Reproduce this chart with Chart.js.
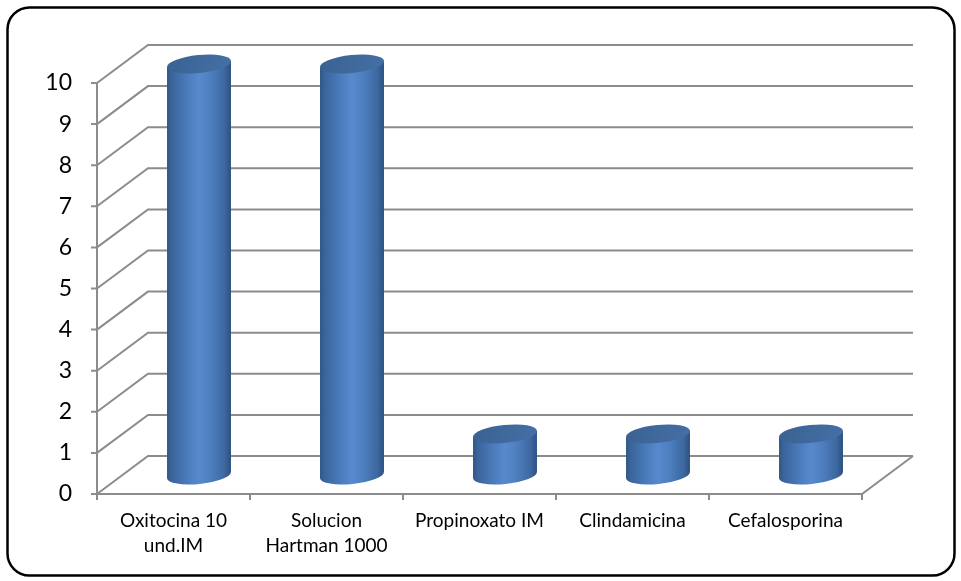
<!DOCTYPE html>
<html>
<head>
<meta charset="utf-8">
<script src="https://cdn.jsdelivr.net/npm/chart.js@4.4.1/dist/chart.umd.min.js"></script>
<style>
  html, body { margin: 0; padding: 0; background: #fff; }
  canvas { display: block; }
</style>
</head>
<body>
<canvas id="medChart" width="961" height="581"></canvas>
<script>
// Chart data
const medicamentos = [['Oxitocina 10', 'und.IM'], ['Solucion', 'Hartman 1000'], 'Propinoxato IM', 'Clindamicina', 'Cefalosporina'];
const cantidades = [10, 10, 1, 1, 1];
const yTickValues = [0, 1, 2, 3, 4, 5, 6, 7, 8, 9, 10];

// 3D look (pixels)
const DEPTH_X = 51;
const DEPTH_Y = -38;
const GRID_COLOR = '#8c8c8c';

function drawCylinder(ctx, cx, topY, botY, rx, ry) {
  const rot = -0.1;
  const c = Math.cos(rot), s = Math.sin(rot);

  const body = ctx.createLinearGradient(cx - rx, 0, cx + rx, 0);
  body.addColorStop(0, '#2f5584');
  body.addColorStop(0.07, '#3a649a');
  body.addColorStop(0.35, '#4c7ec0');
  body.addColorStop(0.5, '#5889cd');
  body.addColorStop(0.68, '#4d7fc0');
  body.addColorStop(0.9, '#3d679e');
  body.addColorStop(1, '#2c5080');

  ctx.beginPath();
  ctx.moveTo(cx + rx * c, topY + rx * s);
  ctx.lineTo(cx + rx * c, botY + rx * s);
  ctx.ellipse(cx, botY, rx, ry, rot, 0, Math.PI, false);
  ctx.lineTo(cx - rx * c, topY - rx * s);
  ctx.closePath();
  ctx.fillStyle = body;
  ctx.fill();

  const top = ctx.createLinearGradient(cx - rx, topY - ry, cx + rx, topY + ry);
  top.addColorStop(0, '#3a6292');
  top.addColorStop(1, '#4570a6');
  ctx.beginPath();
  ctx.ellipse(cx, topY, rx, ry, rot, 0, Math.PI * 2);
  ctx.fillStyle = top;
  ctx.fill();
}

const frame3d = {
  id: 'frame3d',
  beforeDraw(chart) {
    const ctx = chart.ctx;
    ctx.save();
    ctx.fillStyle = '#fff';
    ctx.fillRect(0, 0, chart.width, chart.height);
    ctx.beginPath();
    ctx.roundRect(7.5, 7.5, 947, 568, 22);
    ctx.lineWidth = 2.5;
    ctx.strokeStyle = '#000';
    ctx.stroke();
    ctx.restore();
  },
  beforeDatasetsDraw(chart) {
    const { ctx, scales: { x, y } } = chart;
    const left = x.left, right = x.right;
    const p0 = y.getPixelForValue(0);
    ctx.save();
    ctx.strokeStyle = GRID_COLOR;
    ctx.lineWidth = 2;
    ctx.beginPath();
    yTickValues.forEach(v => {
      const py = y.getPixelForValue(v);
      ctx.moveTo(left, py);
      ctx.lineTo(left + DEPTH_X, py + DEPTH_Y);
      ctx.lineTo(right + DEPTH_X, py + DEPTH_Y);
      // tick mark
      ctx.moveTo(left - 6, py);
      ctx.lineTo(left, py);
    });
    // floor front edge + right edge
    ctx.moveTo(left, p0);
    ctx.lineTo(right, p0);
    ctx.lineTo(right + DEPTH_X, p0 + DEPTH_Y);
    // front value axis
    ctx.moveTo(left, y.getPixelForValue(yTickValues[yTickValues.length - 1]));
    ctx.lineTo(left, p0);
    // category tick marks
    const n = medicamentos.length;
    for (let i = 0; i <= n; i++) {
      const bx = left + i * (right - left) / n;
      ctx.moveTo(bx, p0);
      ctx.lineTo(bx, p0 + 6);
    }
    ctx.stroke();
    ctx.restore();
  },
  afterDatasetsDraw(chart) {
    const ctx = chart.ctx;
    const meta = chart.getDatasetMeta(0);
    ctx.save();
    meta.data.forEach(bar => {
      const { x, y, base, width } = bar.getProps(['x', 'y', 'base', 'width'], true);
      const cx = x + DEPTH_X / 2;
      drawCylinder(ctx, cx, y + DEPTH_Y / 2, base + DEPTH_Y / 2, width / 2, 9);
    });
    ctx.restore();
  }
};

new Chart(document.getElementById('medChart'), {
  type: 'bar',
  data: {
    labels: medicamentos,
    datasets: [{
      label: 'Cantidad',
      data: cantidades,
      backgroundColor: 'rgba(0,0,0,0)',
      borderWidth: 0,
      barPercentage: 0.42,
      categoryPercentage: 1
    }]
  },
  options: {
    responsive: false,
    animation: false,
    layout: { padding: { left: 0, top: 83, right: 99, bottom: 0 } },
    plugins: {
      legend: { display: false },
      tooltip: { enabled: false }
    },
    scales: {
      y: {
        min: 0,
        max: 10,
        afterFit: s => { s.width = 97; },
        afterBuildTicks: s => { s.ticks = yTickValues.map(v => ({ value: v })); },
        grid: { display: false, drawTicks: false },
        border: { display: false },
        ticks: {
          padding: 25,
          color: '#000',
          font: { family: 'Lato', size: 23 }
        }
      },
      x: {
        afterFit: s => { s.height = 87; },
        grid: { display: false, drawTicks: false },
        border: { display: false },
        ticks: {
          padding: 14,
          maxRotation: 0,
          autoSkip: false,
          color: '#000',
          font: { family: 'Lato', size: 19, lineHeight: 1.32 }
        }
      }
    }
  },
  plugins: [frame3d]
});
</script>
</body>
</html>
